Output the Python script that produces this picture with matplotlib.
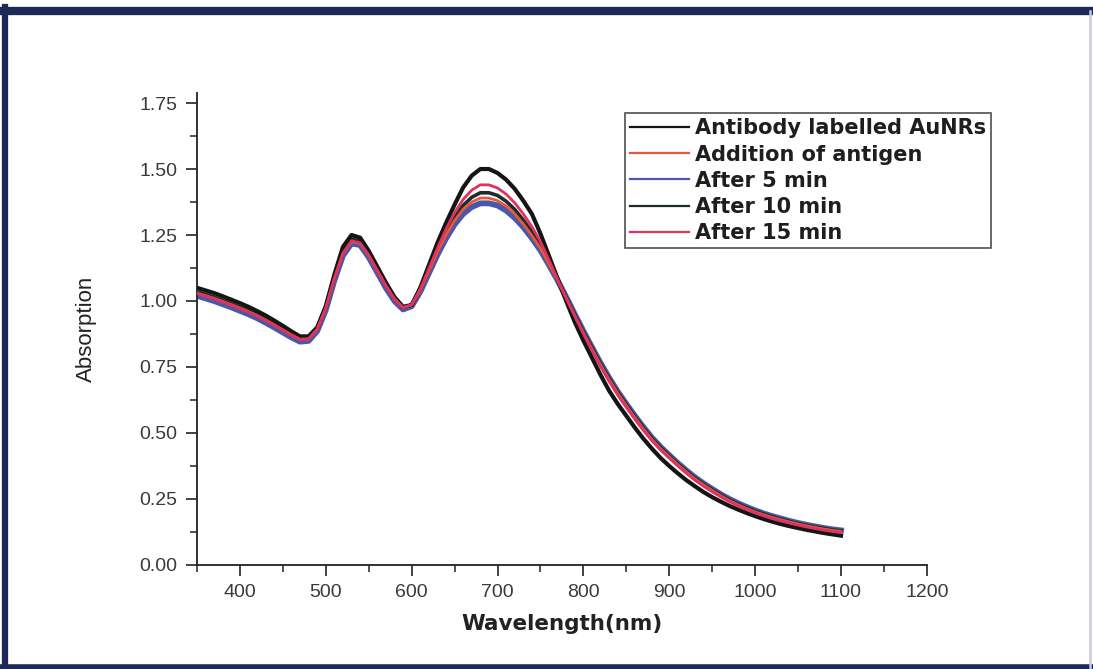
import numpy as np
import matplotlib
matplotlib.use("Agg")
import matplotlib.pyplot as plt
from matplotlib.lines import Line2D
from matplotlib.ticker import MultipleLocator, FormatStrFormatter

plt.rcParams['font.family'] = ['Liberation Sans', 'DejaVu Sans']

# wavelength grid (nm)
wavelength = np.arange(350, 1101, 10)

# absorption spectra
antibody = [1.050, 1.040, 1.030, 1.018, 1.005, 0.992, 0.978, 0.962, 0.945, 0.926,
            0.906, 0.885, 0.866, 0.866, 0.900, 0.980, 1.100, 1.205, 1.250, 1.240,
            1.190, 1.130, 1.070, 1.015, 0.978, 0.985, 1.050, 1.135, 1.220, 1.295,
            1.365, 1.430, 1.475, 1.500, 1.500, 1.485, 1.460, 1.425, 1.380, 1.330,
            1.255, 1.170, 1.085, 1.000, 0.920, 0.850, 0.785, 0.720, 0.660, 0.610,
            0.565, 0.520, 0.478, 0.440, 0.405, 0.375, 0.347, 0.321, 0.298, 0.276,
            0.257, 0.240, 0.224, 0.210, 0.197, 0.185, 0.174, 0.164, 0.155, 0.147,
            0.140, 0.133, 0.127, 0.121, 0.116, 0.111]

addition = [1.030, 1.020, 1.010, 0.998, 0.986, 0.973, 0.960, 0.945, 0.928, 0.910,
            0.891, 0.872, 0.855, 0.857, 0.893, 0.972, 1.085, 1.180, 1.225, 1.218,
            1.172, 1.115, 1.058, 1.008, 0.975, 0.985, 1.040, 1.112, 1.185, 1.250,
            1.305, 1.348, 1.375, 1.390, 1.390, 1.380, 1.360, 1.330, 1.292, 1.248,
            1.200, 1.140, 1.078, 1.012, 0.945, 0.880, 0.818, 0.758, 0.702, 0.650,
            0.603, 0.558, 0.515, 0.475, 0.440, 0.410, 0.380, 0.352, 0.326, 0.303,
            0.282, 0.262, 0.244, 0.228, 0.214, 0.201, 0.190, 0.180, 0.171, 0.163,
            0.155, 0.148, 0.142, 0.136, 0.131, 0.127]

after5 = [1.020, 1.010, 1.000, 0.988, 0.976, 0.963, 0.950, 0.935, 0.918, 0.900,
          0.881, 0.862, 0.846, 0.849, 0.886, 0.966, 1.078, 1.172, 1.218, 1.212,
          1.166, 1.108, 1.050, 1.000, 0.968, 0.980, 1.035, 1.105, 1.175, 1.237,
          1.290, 1.330, 1.356, 1.370, 1.370, 1.362, 1.343, 1.315, 1.280, 1.238,
          1.192, 1.136, 1.078, 1.015, 0.950, 0.886, 0.825, 0.765, 0.709, 0.657,
          0.610, 0.565, 0.522, 0.482, 0.447, 0.416, 0.386, 0.358, 0.332, 0.309,
          0.288, 0.268, 0.250, 0.234, 0.220, 0.207, 0.195, 0.185, 0.176, 0.167,
          0.159, 0.152, 0.146, 0.140, 0.135, 0.131]

after10 = [1.035, 1.025, 1.015, 1.003, 0.990, 0.977, 0.964, 0.949, 0.932, 0.914,
           0.895, 0.876, 0.859, 0.860, 0.896, 0.976, 1.090, 1.188, 1.235, 1.226,
           1.179, 1.120, 1.061, 1.009, 0.975, 0.985, 1.042, 1.116, 1.190, 1.258,
           1.316, 1.362, 1.393, 1.410, 1.410, 1.400, 1.378, 1.347, 1.307, 1.262,
           1.210, 1.148, 1.080, 1.014, 0.948, 0.884, 0.822, 0.762, 0.706, 0.654,
           0.607, 0.562, 0.519, 0.479, 0.444, 0.413, 0.383, 0.355, 0.329, 0.306,
           0.285, 0.265, 0.247, 0.231, 0.217, 0.204, 0.193, 0.183, 0.173, 0.165,
           0.157, 0.150, 0.144, 0.138, 0.133, 0.129]

after15 = [1.028, 1.018, 1.008, 0.996, 0.984, 0.971, 0.958, 0.943, 0.926, 0.908,
           0.889, 0.870, 0.853, 0.855, 0.892, 0.972, 1.086, 1.182, 1.228, 1.220,
           1.174, 1.116, 1.058, 1.006, 0.974, 0.986, 1.045, 1.122, 1.200, 1.272,
           1.335, 1.385, 1.420, 1.440, 1.440, 1.428, 1.405, 1.372, 1.330, 1.282,
           1.225, 1.155, 1.082, 1.010, 0.942, 0.876, 0.813, 0.752, 0.696, 0.644,
           0.597, 0.552, 0.509, 0.470, 0.435, 0.405, 0.375, 0.347, 0.321, 0.298,
           0.277, 0.258, 0.240, 0.224, 0.210, 0.197, 0.186, 0.176, 0.167, 0.159,
           0.151, 0.144, 0.138, 0.132, 0.127, 0.123]

labels = ["Antibody labelled AuNRs", "Addition of antigen", "After 5 min",
          "After 10 min", "After 15 min"]
colors = ["#151515", "#e8583a", "#4b57a8", "#1e2b2b", "#e0325e"]

fig = plt.figure(figsize=(10.93, 6.69), dpi=100)
ax = fig.add_axes([0.1802, 0.1555, 0.848 - 0.1802, 0.861 - 0.1555])

series = [antibody, addition, after5, after10, after15]
# blue underneath so it shows as the halo, black antibody on top
order = [2, 3, 0, 1, 4]
zs = {2: 2, 3: 3, 0: 4, 1: 5, 4: 6}
widths = {0: 3.0, 1: 2.0, 2: 4.2, 3: 2.6, 4: 2.0}
for i in order:
    ax.plot(wavelength, series[i], color=colors[i], lw=widths[i], zorder=zs[i],
            solid_joinstyle='round')

ax.set_xlim(350, 1200)
ax.set_ylim(0, 1.788)
ax.xaxis.set_major_locator(MultipleLocator(100))
ax.xaxis.set_minor_locator(MultipleLocator(50))
ax.yaxis.set_major_locator(MultipleLocator(0.25))
ax.yaxis.set_minor_locator(MultipleLocator(0.125))
ax.yaxis.set_major_formatter(FormatStrFormatter('%.2f'))
ax.set_xticks([400, 500, 600, 700, 800, 900, 1000, 1100, 1200])

for s in ['top', 'right']:
    ax.spines[s].set_visible(False)
for s in ['left', 'bottom']:
    ax.spines[s].set_linewidth(1.3)
    ax.spines[s].set_color('#222222')

ax.tick_params(which='major', direction='out', length=8, width=1.2,
               colors='#222222', labelcolor='#3a3a3a', labelsize=14, pad=6,
               labelfontfamily='Liberation Sans')
ax.tick_params(which='minor', direction='out', length=5, width=1.1, colors='#222222')

ax.set_xlabel("Wavelength(nm)", fontsize=15.5, fontweight='bold', color='#222222',
              labelpad=9, family=['DejaVu Sans'])
ax.set_ylabel("Absorption", fontsize=16, color='#222222', labelpad=31,
              family=['Liberation Sans'])

handles = [Line2D([], [], color=colors[i], lw=1.6) for i in range(5)]
leg = fig.legend(handles, labels, loc='upper left',
                 bbox_to_anchor=(0.572, 0.831), frameon=True, fancybox=False,
                 edgecolor='#222222', handlelength=2.8,
                 handletextpad=0.3, labelspacing=0.3, borderpad=0.25,
                 borderaxespad=0,
                 prop={'family': 'DejaVu Sans', 'weight': 'bold', 'size': 15})
leg.get_frame().set_linewidth(1.2)
for t in leg.get_texts():
    t.set_color('#1e1e1e')

# outer frame of the original figure
W, H = 1093, 669
fig.add_artist(Line2D([5 / W, 5 / W], [0, 1 - 7 / H], color='#1c2a55', lw=4.5))
fig.add_artist(Line2D([0, 1], [1 - 11 / H, 1 - 11 / H], color='#1c2a55', lw=6))
fig.add_artist(Line2D([0, 1], [2.5 / H, 2.5 / H], color='#1c2a55', lw=4))
fig.add_artist(Line2D([1090 / W, 1090 / W], [0, 1 - 11 / H], color='#c5cbe0', lw=1.8))

fig.savefig("out.png", dpi=100)
